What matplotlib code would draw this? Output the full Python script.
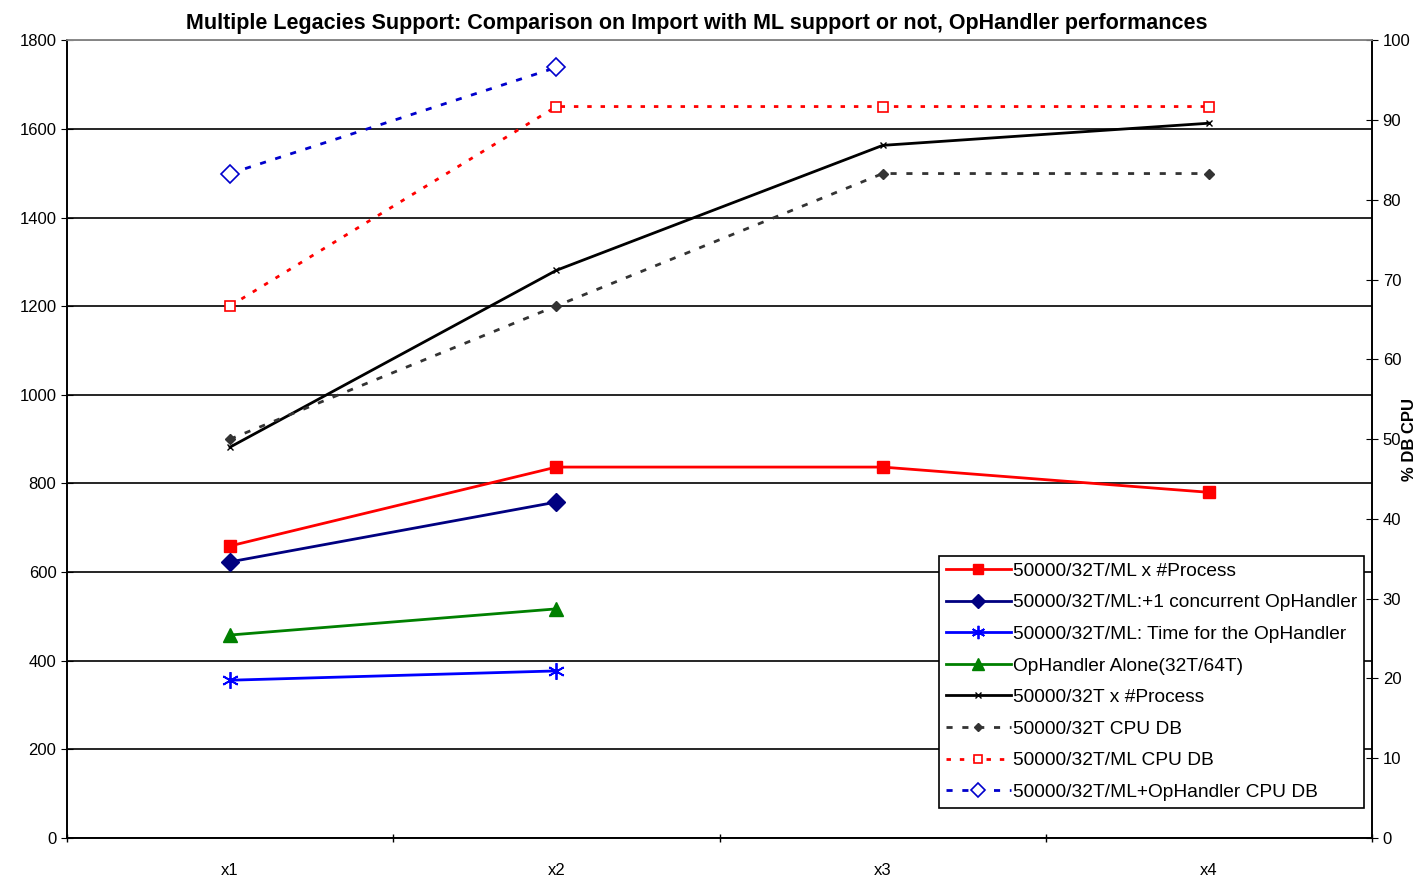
import numpy as np
import matplotlib.pyplot as plt
from matplotlib.ticker import MultipleLocator

plt.rcParams['font.family'] = ['Liberation Sans', 'DejaVu Sans']

# %% data
categories = ["x1", "x2", "x3", "x4"]
ml_process = [659, 837, 837, 780]
ml_concurrent = [623, 758]
ml_ophandler_time = [356, 377]
ophandler_alone = [458, 517]
t32_process = [882, 1281, 1563, 1613]
# right axis, % DB CPU
t32_cpu = [50, 66.7, 83.3, 83.3]
ml_cpu = [66.7, 91.7, 91.7, 91.7]
ml_op_cpu = [83.3, 96.6]

labels = ["50000/32T/ML x #Process",
          "50000/32T/ML:+1 concurrent OpHandler",
          "50000/32T/ML: Time for the OpHandler",
          "OpHandler Alone(32T/64T)",
          "50000/32T x #Process",
          "50000/32T CPU DB",
          "50000/32T/ML CPU DB",
          "50000/32T/ML+OpHandler CPU DB"]

# %% plot
fig = plt.figure(figsize=(14.22, 8.77), dpi=100)
ax = fig.add_axes([0.047, 0.0445, 0.918, 0.9095])
ax2 = ax.twinx()

x = np.arange(len(categories))

h = []
h += ax.plot(x, ml_process, color="#ff0000", lw=2, marker="s", ms=9)
h += ax.plot(x[:2], ml_concurrent, color="#000080", lw=2, marker="D", ms=9)
h += ax.plot(x[:2], ml_ophandler_time, color="#0000ff", lw=2,
             marker=(6, 2, 0), ms=12, mew=1.3)
h += ax.plot(x[:2], ophandler_alone, color="#008000", lw=2, marker="^", ms=10)
h += ax.plot(x, t32_process, color="black", lw=2, marker="x", ms=5)

h += ax2.plot(x, t32_cpu, color="#333333", lw=2, ls=(0, (2.2, 3.5)),
              marker="D", ms=5)
h += ax2.plot(x, ml_cpu, color="#ff0000", lw=2, ls=(0, (1.6, 3.2)),
              marker="s", ms=7, mfc="white", mew=1.2)
h += ax2.plot(x[:2], ml_op_cpu, color="#0000cc", lw=2, ls=(0, (2.2, 3.5)),
              marker="D", ms=9, mfc="white", mew=1.2)

ax.set_xlim(-0.5, 3.5)
ax.set_ylim(0, 1800)
ax2.set_ylim(0, 100)
ax.yaxis.set_major_locator(MultipleLocator(200))
ax2.yaxis.set_major_locator(MultipleLocator(10))
ax.grid(axis="y", color="black", lw=1.2)
ax.set_axisbelow(True)

ax.set_xticks(x)
ax.set_xticklabels(categories, fontsize=12)
ax.set_xticks(np.arange(-0.5, 3.6, 1), minor=True)
ax.tick_params(axis="x", which="major", length=0, pad=18)
ax.tick_params(axis="x", which="minor", length=6, direction="inout", width=1)
ax.tick_params(axis="y", labelsize=12, direction="inout", length=8)
ax2.tick_params(axis="y", labelsize=12, direction="inout", length=8)

for a in (ax, ax2):
    for s in a.spines.values():
        s.set_linewidth(1.2)
ax.spines["top"].set_color("#888888")
ax2.spines["top"].set_color("#888888")

ax2.set_ylabel("% DB CPU", fontsize=12, fontweight="bold", labelpad=-6)

fig.suptitle("Multiple Legacies Support: Comparison on Import with ML support or not, OpHandler performances",
             fontsize=15.5, fontweight="bold", x=0.49, y=0.985)

leg = ax2.legend(h, labels, loc="upper left", bbox_to_anchor=(0.668, 0.354),
                 fontsize=13.8, frameon=True, fancybox=False, edgecolor="black",
                 framealpha=1, borderpad=0.35, labelspacing=0.74,
                 handlelength=3.4, handletextpad=0.1, borderaxespad=0,
                 markerscale=0.8)
leg.get_frame().set_linewidth(1.2)

fig.savefig("out.png", dpi=100)
